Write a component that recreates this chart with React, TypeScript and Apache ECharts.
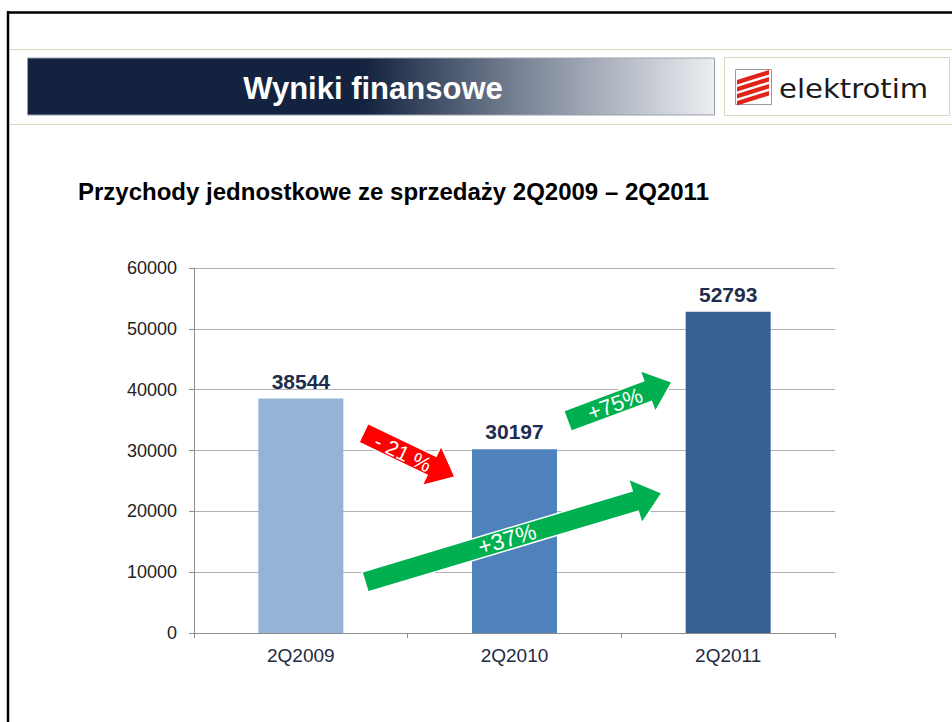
import React, { useEffect, useRef } from "react";
import * as echarts from "echarts";

const categories = ["2Q2009", "2Q2010", "2Q2011"];
const revenue = [38544, 30197, 52793];
const barColors = ["#95b3d7", "#4f81bd", "#375f91"];
const yTicks = { min: 0, max: 60000, interval: 10000 };
const headerTitle = "Wyniki finansowe";
const subtitle = "Przychody jednostkowe ze sprzedaży 2Q2009 – 2Q2011";
const changeLabels = ["- 21 %", "+75%", "+37%"];

const FONT = '"Liberation Sans", Arial, sans-serif';

function arrowPoints(tx: number, ty: number, hx: number, hy: number, sw: number, hw: number, hl: number) {
  const dx = hx - tx;
  const dy = hy - ty;
  const len = Math.sqrt(dx * dx + dy * dy);
  const ux = dx / len;
  const uy = dy / len;
  const nx = -uy;
  const ny = ux;
  const bx = hx - ux * hl;
  const by = hy - uy * hl;
  return [
    [tx + nx * sw, ty + ny * sw],
    [bx + nx * sw, by + ny * sw],
    [bx + nx * hw, by + ny * hw],
    [hx, hy],
    [bx - nx * hw, by - ny * hw],
    [bx - nx * sw, by - ny * sw],
    [tx - nx * sw, ty - ny * sw],
  ];
}

export default function App() {
  const ref = useRef<HTMLDivElement>(null);
  useEffect(() => {
    if (!ref.current) return;
    const chart = echarts.init(ref.current, undefined, { renderer: "svg" });

    const arrows = [
      { t: [363.5, 433], h: [455, 477], sw: 10.5, hw: 22, hl: 26, color: "#ff0000", label: changeLabels[0], lx: 403, ly: 453, fs: 21 },
      { t: [567.5, 421], h: [672, 382], sw: 11, hw: 22, hl: 26, color: "#00b050", label: changeLabels[1], lx: 615, ly: 404, fs: 22 },
      { t: [365, 582], h: [662, 493], sw: 10.5, hw: 23, hl: 28, color: "#00b050", label: changeLabels[2], lx: 507, ly: 539, fs: 23 },
    ];

    const arrowEls: any[] = [];
    arrows.forEach((a) => {
      const ang = Math.atan2(a.h[1] - a.t[1], a.h[0] - a.t[0]);
      arrowEls.push({
        type: "polygon",
        z: 100,
        shape: { points: arrowPoints(a.t[0], a.t[1], a.h[0], a.h[1], a.sw, a.hw, a.hl) },
        style: { fill: a.color, stroke: "#ffffff", lineWidth: 1.5 },
      });
      arrowEls.push({
        type: "text",
        z: 101,
        x: a.lx,
        y: a.ly,
        rotation: -ang,
        style: {
          text: a.label,
          x: 0,
          y: 0,
          fill: "#ffffff",
          font: `${a.fs}px ${FONT}`,
          textAlign: "center",
          textVerticalAlign: "middle",
        },
      });
    });

    const stripes: any[] = [];
    for (let i = 0; i < 4; i++) {
      stripes.push({
        type: "polygon",
        z: 12,
        shape: {
          points: [
            [737, 80 + 7 * i],
            [769, 70 + 7 * i],
            [769, 74.5 + 7 * i],
            [737, 84.5 + 7 * i],
          ],
        },
        style: { fill: "#e2231a" },
      });
    }

    chart.setOption({
      animation: false,
      backgroundColor: "#ffffff",
      grid: { left: 194, right: 117, top: 268, bottom: 89, containLabel: false },
      xAxis: {
        type: "category",
        data: categories,
        boundaryGap: true,
        axisLine: { show: true, lineStyle: { color: "#8c8c8c", width: 1 } },
        axisTick: { show: true, length: 5, alignWithLabel: false, lineStyle: { color: "#8c8c8c" } },
        axisLabel: { margin: 13, fontSize: 19, fontFamily: FONT, color: "#1f2a44" },
        splitLine: { show: false },
      },
      yAxis: {
        type: "value",
        min: yTicks.min,
        max: yTicks.max,
        interval: yTicks.interval,
        axisLine: { show: true, lineStyle: { color: "#8c8c8c", width: 1 } },
        axisTick: { show: true, length: 5, lineStyle: { color: "#8c8c8c" } },
        axisLabel: {
          margin: 17,
          fontSize: 18,
          fontFamily: FONT,
          color: "#222222",
          formatter: (v: number) => String(v),
        },
        splitLine: { show: true, lineStyle: { color: "#b0b0b0", width: 1 } },
      },
      series: [
        {
          type: "bar",
          barWidth: 85,
          data: revenue.map((v, i) => ({ value: v, itemStyle: { color: barColors[i] } })),
          label: {
            show: true,
            position: "top",
            distance: 7,
            fontSize: 21,
            fontWeight: "bold",
            fontFamily: FONT,
            color: "#1f2d4d",
          },
          z: 2,
        },
      ],
      graphic: [
        // frame
        { type: "line", z: 10, shape: { x1: 7, y1: 12.5, x2: 952, y2: 12.5 }, style: { stroke: "#000000", lineWidth: 2.5 } },
        { type: "line", z: 10, shape: { x1: 8, y1: 11, x2: 8, y2: 722 }, style: { stroke: "#000000", lineWidth: 2.5 } },
        // beige lines
        { type: "line", z: 10, shape: { x1: 10, y1: 49.5, x2: 952, y2: 49.5 }, style: { stroke: "#dcd8c4", lineWidth: 1 } },
        { type: "line", z: 10, shape: { x1: 10, y1: 124.5, x2: 952, y2: 124.5 }, style: { stroke: "#dcd8c4", lineWidth: 1 } },
        // header bar
        {
          type: "rect",
          z: 10,
          shape: { x: 27.5, y: 58, width: 687, height: 57 },
          style: {
            fill: new echarts.graphic.LinearGradient(0, 0, 1, 0, [
              { offset: 0, color: "#13233f" },
              { offset: 0.49, color: "#13233f" },
              { offset: 0.72, color: "#7a8496" },
              { offset: 1, color: "#eceef1" },
            ]),
            stroke: "#9aa0aa",
            lineWidth: 1,
          },
        },
        {
          type: "text",
          z: 11,
          style: {
            text: headerTitle,
            x: 373,
            y: 88,
            fill: "#ffffff",
            font: `bold 31px ${FONT}`,
            textAlign: "center",
            textVerticalAlign: "middle",
          },
        },
        // logo box
        {
          type: "rect",
          z: 10,
          shape: { x: 724.5, y: 57.5, width: 225, height: 58 },
          style: { fill: "#ffffff", stroke: "#dcd6c0", lineWidth: 1 },
        },
        {
          type: "rect",
          z: 11,
          shape: { x: 735.5, y: 69.5, width: 36, height: 35 },
          style: { fill: "#ffffff", stroke: "#9a9a9a", lineWidth: 1 },
        },
        ...stripes,
        {
          type: "text",
          z: 12,
          x: 779,
          y: 89,
          scaleX: 1.12,
          style: {
            text: "elektrotim",
            x: 0,
            y: 0,
            fill: "#1a1a1a",
            font: `26px "DejaVu Sans", sans-serif`,
            textAlign: "left",
            textVerticalAlign: "middle",
          },
        },
        // subtitle
        {
          type: "text",
          z: 10,
          style: {
            text: subtitle,
            x: 78,
            y: 191,
            fill: "#000000",
            font: `bold 24px ${FONT}`,
            textAlign: "left",
            textVerticalAlign: "middle",
          },
        },
        ...arrowEls,
      ],
    });
    return () => chart.dispose();
  }, []);
  return (
    <div
      ref={ref}
      style={{ position: "absolute", left: 0, top: 0, width: 952, height: 722 }}
    />
  );
}
